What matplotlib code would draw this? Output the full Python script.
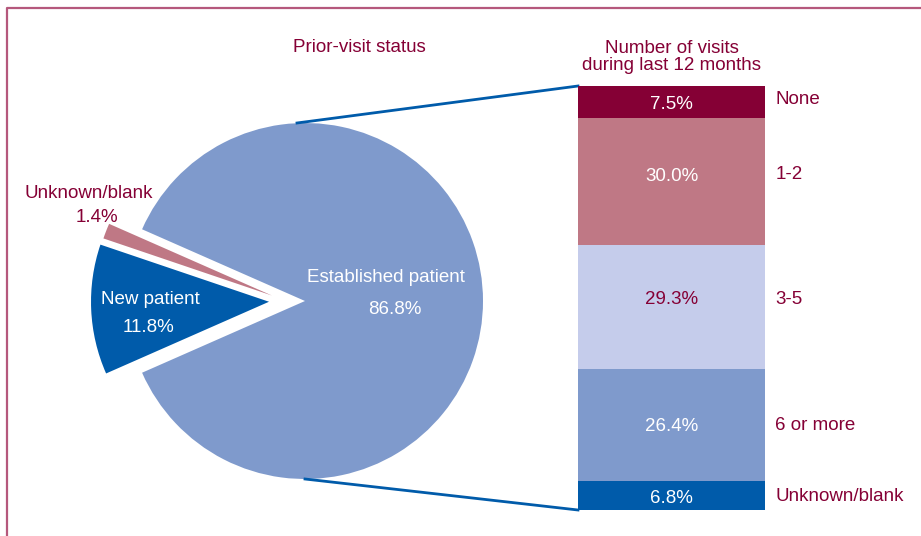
import matplotlib
matplotlib.use("Agg")
import matplotlib.pyplot as plt
import numpy as np

plt.rcParams['font.family'] = ['Liberation Sans', 'DejaVu Sans']

# pie: prior-visit status
pie_labels = ['Established patient', 'Unknown/blank', 'New patient']
pie_values = [86.8, 1.4, 11.8]

# stacked bar: number of visits during last 12 months (top to bottom)
bar_labels = ['None', '1-2', '3-5', '6 or more', 'Unknown/blank']
bar_values = [7.5, 30.0, 29.3, 26.4, 6.8]

maroon = '#850035'
pie_colors = ['#7f9acc', '#bf7885', '#005baa']
bar_colors = ['#850035', '#bf7885', '#c5cceb', '#7f9acc', '#005baa']
bar_text_colors = ['white', 'white', maroon, 'white', 'white']
# small vertical nudges (pixels, + = up) for the text inside / beside each segment
pct_nudge = [-2.5, 4.5, 8, -1, -3]
lab_nudge = [2, 6.5, 8, 0, -1]

W, H = 921, 536
fig = plt.figure(figsize=(W / 100, H / 100), dpi=100)
ax = fig.add_axes([0, 0, 1, 1])

# frame lines (left and top)
ax.plot([6.5, 6.5, W], [0, H - 8, H - 8], color='#b5587c', lw=1.6, solid_capstyle='butt')

# pie (explode is in data units here, axes are in pixels)
cx, cy, r = 286, H - 301, 178
explode = [19, 15, 17]
start = -pie_values[0] / 100 * 360 / 2
ax.pie(pie_values, explode=explode, colors=pie_colors, startangle=start,
       center=(cx, cy), radius=r, wedgeprops=dict(linewidth=0), frame=True)
ax.set_xlim(0, W)
ax.set_ylim(0, H)
ax.set_aspect('equal')
ax.axis('off')

fs = 13.5
ax.text(359, H - 48, 'Prior-visit status', color=maroon, fontsize=fs, ha='center', va='center')
ax.text(386, H - 277, 'Established patient', color='white', fontsize=fs, ha='center', va='center')
ax.text(395, H - 309, '86.8%', color='white', fontsize=fs, ha='center', va='center')
ax.text(150, H - 299, 'New patient', color='white', fontsize=fs, ha='center', va='center')
ax.text(148, H - 327, '11.8%', color='white', fontsize=fs, ha='center', va='center')
ax.text(89, H - 194, 'Unknown/blank', color=maroon, fontsize=fs, ha='center', va='center')
ax.text(97, H - 218, '1.4%', color=maroon, fontsize=fs, ha='center', va='center')

# stacked bar
bx0, bx1, by_top, by_bot = 578, 765, 86, 510
px_per_pct = (by_bot - by_top) / 100
bax = fig.add_axes([bx0 / W, (H - by_bot) / H, (bx1 - bx0) / W, (by_bot - by_top) / H])
bax.set_xlim(0, 1)
bax.set_ylim(0, 100)
bax.axis('off')
tops = 100 - np.concatenate([[0], np.cumsum(bar_values)[:-1]])
bottoms = tops - np.array(bar_values)
bax.bar(0.5, bar_values, bottom=bottoms, width=1, color=bar_colors, linewidth=0)
for lab, v, b, tc, pn, ln in zip(bar_labels, bar_values, bottoms, bar_text_colors,
                                 pct_nudge, lab_nudge):
    mid = b + v / 2
    bax.text(0.5, mid + pn / px_per_pct, f'{v:.1f}%', color=tc, fontsize=fs,
             ha='center', va='center')
    bax.text(1.055, mid + ln / px_per_pct, lab, color=maroon, fontsize=fs,
             ha='left', va='center')

ax.text((bx0 + bx1) / 2, H - 57, 'Number of visits\nduring last 12 months', color=maroon,
        fontsize=fs, ha='center', va='center', linespacing=1.0)

# connectors from established slice to bar
ex = cx + explode[0]
ax.plot([ex - 8, bx0], [cy + r, H - by_top], color='#005baa', lw=2)
ax.plot([ex, bx0], [cy - r, H - by_bot], color='#005baa', lw=2)

fig.savefig('out.png', dpi=100)
